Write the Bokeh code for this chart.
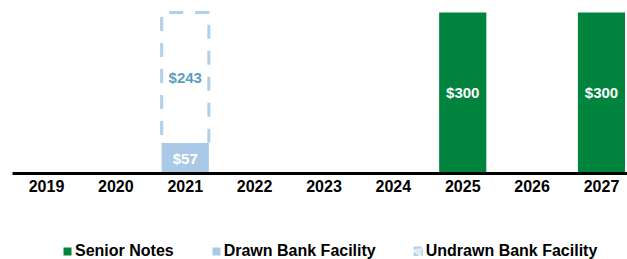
from bokeh.plotting import figure
from bokeh.models import Range1d, FixedTicker, Legend, LegendItem, ColumnDataSource
from bokeh.core.properties import value
from bokeh.embed import file_html
from bokeh.resources import INLINE

# ---- data ----
years = ["2019", "2020", "2021", "2022", "2023", "2024", "2025", "2026", "2027"]
senior_notes = [0, 0, 0, 0, 0, 0, 300, 0, 300]
drawn_bank = [0, 0, 57, 0, 0, 0, 0, 0, 0]
undrawn_bank = [0, 0, 243, 0, 0, 0, 0, 0, 0]

GREEN = "#00843d"
LIGHT_BLUE = "#a9c9e6"
DASH_BLUE = "#b0cfe8"
LABEL_BLUE = "#5f9bc0"
FONT = "Liberation Sans"
BAR_W = 0.68

xs = list(range(len(years)))

p = figure(width=627, height=259, output_backend="svg", toolbar_location=None,
           x_range=Range1d(-0.663, 8.375), y_range=Range1d(-160.2, 322.3),
           min_border=0, min_border_left=0, min_border_right=0, min_border_top=0,
           min_border_bottom=0, y_axis_location=None)
p.outline_line_color = None
p.grid.visible = False

# legend proxy for the undrawn facility (zero-height, hidden under the drawn bar / axis line)
ud_proxy = ColumnDataSource(dict(x=[x for x, u in zip(xs, undrawn_bank) if u],
                                 top=[0 for u in undrawn_bank if u]))
r_ud = p.vbar(x="x", top="top", bottom=0, width=0.1, source=ud_proxy,
              fill_color=LIGHT_BLUE, fill_alpha=0.35,
              line_color=DASH_BLUE, line_width=2, line_dash="7 3")

# senior notes
sn = ColumnDataSource(dict(x=[x for x, v in zip(xs, senior_notes) if v],
                           top=[v for v in senior_notes if v],
                           lab=["$%d" % v for v in senior_notes if v],
                           ly=[v / 2 for v in senior_notes if v]))
r_sn = p.vbar(x="x", top="top", bottom=0, width=BAR_W, source=sn, fill_color=GREEN, line_color=None)
p.text(x="x", y="ly", text="lab", source=sn, text_color="white", text_font=value(FONT),
       text_font_style="bold", text_font_size="15px", text_align="center", text_baseline="middle")

# drawn bank facility
db = ColumnDataSource(dict(x=[x for x, v in zip(xs, drawn_bank) if v],
                           top=[v for v in drawn_bank if v],
                           lab=["$%d" % v for v in drawn_bank if v],
                           ly=[v / 2 for v in drawn_bank if v]))
r_db = p.vbar(x="x", top="top", bottom=0, width=BAR_W, source=db, fill_color=LIGHT_BLUE, line_color=None)
p.text(x="x", y="ly", text="lab", source=db, text_color="white", text_font=value(FONT),
       text_font_style="bold", text_font_size="15px", text_align="center", text_baseline="middle")

# undrawn bank facility (dashed outline stacked on drawn)
ux, uy, ul, uly, umx = [], [], [], [], []
for x, d, u in zip(xs, drawn_bank, undrawn_bank):
    if u:
        ux.append([x - BAR_W / 2, x - BAR_W / 2, x + BAR_W / 2, x + BAR_W / 2])
        uy.append([d, d + u, d + u, d])
        ul.append("$%d" % u)
        uly.append(d + u / 2)
        umx.append(x)
p.multi_line(xs=ux, ys=uy, line_color=DASH_BLUE, line_width=3, line_dash="14 12",
             line_dash_offset=18)
p.text(x=umx, y=uly, text=ul, text_color=LABEL_BLUE, text_font=value(FONT),
       text_font_style="bold", text_font_size="15px", text_align="center", text_baseline="middle")

# axis at the zero line
p.xaxis.fixed_location = 0
p.xaxis.ticker = FixedTicker(ticks=xs)
p.xaxis.major_label_overrides = {i: y for i, y in zip(xs, years)}
p.xaxis.axis_line_width = 3
p.xaxis.axis_line_color = "black"
p.xaxis.major_tick_line_color = None
p.xaxis.minor_tick_line_color = None
p.xaxis.major_label_standoff = 0
p.xaxis.major_label_text_font = FONT
p.xaxis.major_label_text_font_style = "bold"
p.xaxis.major_label_text_font_size = "16px"
p.xaxis.major_label_text_color = "black"
p.xaxis.bounds = (-0.490, 8.375)

legend = Legend(items=[LegendItem(label="Senior Notes", renderers=[r_sn]),
                       LegendItem(label="Drawn Bank Facility", renderers=[r_db]),
                       LegendItem(label="Undrawn Bank Facility", renderers=[r_ud])],
                orientation="horizontal", location=(62, -1),
                glyph_width=10, glyph_height=10, label_standoff=3, spacing=37,
                padding=0, margin=0, border_line_color=None, background_fill_alpha=0,
                label_text_font=FONT, label_text_font_style="bold",
                label_text_font_size="16px", label_text_color="black",
                label_height=10)
p.add_layout(legend, "center")

open("out.html", "w").write(file_html(p, INLINE))
